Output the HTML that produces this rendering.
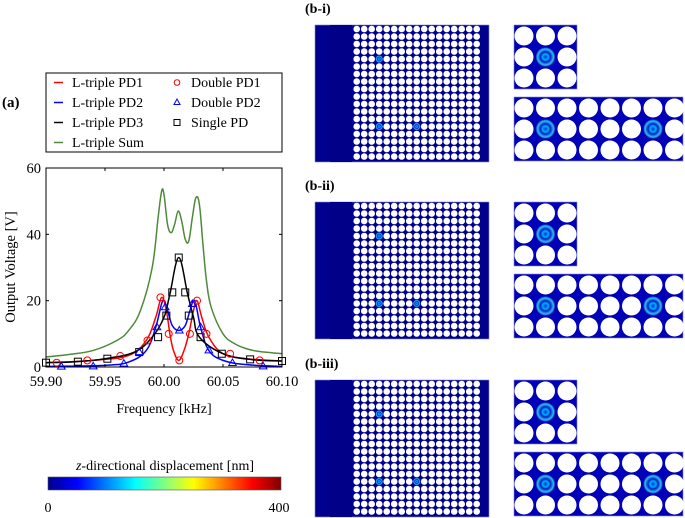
<!DOCTYPE html>
<html><head><meta charset="utf-8"><style>
body{margin:0;background:#fff;width:685px;height:518px;overflow:hidden;font-family:"Liberation Serif",serif}
svg{position:absolute;left:0;top:0}
</style></head><body>
<svg id="s" width="685" height="518" viewBox="0 0 685 518">
<defs>
<linearGradient id="jet" x1="0" x2="1" y1="0" y2="0">
<stop offset="0" stop-color="#00008f"/><stop offset="0.125" stop-color="#0000ff"/><stop offset="0.375" stop-color="#00ffff"/><stop offset="0.5" stop-color="#80ff80"/><stop offset="0.625" stop-color="#ffff00"/><stop offset="0.875" stop-color="#ff0000"/><stop offset="1" stop-color="#800000"/>
</linearGradient>
<radialGradient id="spot"><stop offset="0" stop-color="#0030d0"/><stop offset="0.3" stop-color="#00b0ff"/><stop offset="0.5" stop-color="#0020c0"/><stop offset="0.8" stop-color="#30c0ff"/><stop offset="1" stop-color="#00008f"/></radialGradient>
</defs>
<text x="2" y="107" font-size="15" font-weight="bold">(a)</text>
<g>
<rect x="46" y="73" width="236" height="79" fill="#fff" stroke="#000" stroke-width="1"/>
</g>
<g id="plot"></g>
<text x="164" y="413" font-size="14" text-anchor="middle">Frequency [kHz]</text>
<text transform="translate(15,267) rotate(-90)" font-size="14.5" text-anchor="middle">Output Voltage [V]</text>
<g>
<text x="165" y="470" font-size="14" text-anchor="middle"><tspan font-style="italic">z</tspan>-directional displacement [nm]</text>
<rect x="48" y="477" width="233" height="13" fill="url(#jet)" stroke="#555" stroke-width="0.6"/>
<text x="48" y="512" font-size="14" text-anchor="middle">0</text>
<text x="279" y="512" font-size="14" text-anchor="middle">400</text>
</g>
<g id="panels"></g>
</svg>
<script>
const NS="http://www.w3.org/2000/svg";
const svg=document.getElementById('s');
function mk(t,a,p){const e=document.createElementNS(NS,t);for(const k in a)e.setAttribute(k,a[k]);(p||svg).appendChild(e);return e;}
// ---- chart data ----
const xTicks=[59.90,59.95,60.00,60.05,60.10];
const yTicks=[0,20,40,60];
const sumF=[59.90,59.92,59.94,59.96,59.97,59.98,59.99,59.995,59.998,60.000,60.003,60.006,60.009,60.012,60.015,60.018,60.021,60.024,60.027,60.030,60.033,60.036,60.040,60.050,60.060,60.070,60.080,60.100];
const sumV=[3,3.8,5,8,11,17,30,45,53,52,43,40.5,43,47,44,38.5,38,45,51,49,37,26,18,10,7,5.5,4.7,4];
const pd3F=[59.90,59.925,59.95,59.975,59.99,60.000,60.005,60.0125,60.020,60.025,60.030,60.050,60.075,60.100];
const pd3V=[1.3,1.6,2.5,4.5,9,15,22,33,22,15,9,4,2.2,1.8];
const pd1F=[59.90,59.94,59.97,59.985,59.993,59.998,60.002,60.005,60.008,60.0125,60.017,60.021,60.025,60.028,60.032,60.038,60.050,60.070,60.100];
const pd1V=[1.3,2,3.5,8,15,21,17,10,5,2,5,10,17,20,15,9,4,2.5,1.8];
const pd2F=[59.90,59.95,59.97,59.985,59.993,59.999,60.003,60.007,60.0125,60.018,60.022,60.026,60.031,60.038,60.050,60.070,60.100];
const pd2V=[0.2,0.5,1.5,5,12,20,17,12.5,11,12.5,17,20,12,5,2,0.7,0.2];
const sqF=[59.900,59.927,59.952,59.979,59.995,60.002,60.007,60.0125,60.018,60.021,60.031,60.049,60.073,60.100];
const sqV=[1.3,1.6,2.5,4.5,9,15.5,22.5,33,22.5,15.5,9,4,2.3,1.8];
const ciF=[59.909,59.935,59.963,59.986,59.997,60.004,60.013,60.022,60.028,60.036,60.056,60.081];
const ciV=[1.3,2,3.3,8,21,10,2,10,20,10,4,2];
const trF=[59.913,59.940,59.966,59.979,59.994,60.001,60.013,60.024,60.031,60.038,60.058,60.084];
const trV=[0.1,0.2,1,4.5,12,18,11,19,12,5,1.2,0.2];
const X0=46,X1=282,Y0=367,Y1=168;
const xs=f=>X0+(f-59.90)/0.2*(X1-X0);
const ys=v=>Y0-v/60*(Y0-Y1);
const plot=document.getElementById('plot');
mk('rect',{x:X0,y:Y1,width:X1-X0,height:Y0-Y1,fill:'#fff',stroke:'none'},plot);
function smooth(pts){let d='M'+pts[0][0]+','+pts[0][1];
for(let i=0;i<pts.length-1;i++){const p0=pts[Math.max(0,i-1)],p1=pts[i],p2=pts[i+1],p3=pts[Math.min(pts.length-1,i+2)];
const t=0.18;const c1=[p1[0]+(p2[0]-p0[0])*t,p1[1]+(p2[1]-p0[1])*t],c2=[p2[0]-(p3[0]-p1[0])*t,p2[1]-(p3[1]-p1[1])*t];
d+=` C${c1[0]},${c1[1]} ${c2[0]},${c2[1]} ${p2[0]},${p2[1]}`;}return d;}
function line(F,V,c,name){const p=mk('path',{d:smooth(F.map((f,i)=>[xs(f),ys(V[i])])),fill:'none',stroke:c,'stroke-width':1.5,'stroke-linejoin':'round'},plot);

}
line(sumF,sumV,'#4e8a3a','series-sum');
line(pd2F,pd2V,'#0000ff','series-pd2');
line(pd1F,pd1V,'#ff0000','series-pd1');
line(pd3F,pd3V,'#000','series-pd3');
sqF.forEach((f,i)=>{const e=mk('rect',{x:xs(f)-3.5,y:ys(sqV[i])-3.5,width:7,height:7,fill:'none',stroke:'#000','stroke-width':1},plot);

});
ciF.forEach((f,i)=>{const e=mk('circle',{cx:xs(f),cy:ys(ciV[i]),r:3.5,fill:'none',stroke:'#ff0000','stroke-width':1},plot);

});
trF.forEach((f,i)=>{const x=xs(f),y=ys(trV[i]);const e=mk('polygon',{points:`${x},${y-4} ${x-3.8},${y+2.5} ${x+3.8},${y+2.5}`,fill:'none',stroke:'#0000ff','stroke-width':1},plot);

});
mk('rect',{x:X0,y:Y1,width:X1-X0,height:Y0-Y1,fill:'none',stroke:'#000','stroke-width':1},plot);
xTicks.forEach(t=>{const x=xs(t);mk('line',{x1:x,x2:x,y1:Y0,y2:Y0-3,stroke:'#000'},plot);mk('line',{x1:x,x2:x,y1:Y1,y2:Y1+3,stroke:'#000'},plot);
const e=mk('text',{x:x,y:Y0+19,'font-size':14.5,'text-anchor':'middle'},plot);e.textContent=t.toFixed(2);

});
yTicks.forEach(t=>{const y=ys(t);mk('line',{x1:X0,x2:X0+3,y1:y,y2:y,stroke:'#000'},plot);mk('line',{x1:X1,x2:X1-3,y1:y,y2:y,stroke:'#000'},plot);
const e=mk('text',{x:X0-5,y:y+5,'font-size':14.5,'text-anchor':'end'},plot);e.textContent=t;

});
// legend entries
const legItems=[['L-triple PD1','#ff0000','line',57,87],['L-triple PD2','#0000ff','line',57,107],['L-triple PD3','#000','line',57,127],['L-triple Sum','#4e8a3a','line',57,147],['Double PD1','#ff0000','circle',176,87],['Double PD2','#0000ff','tri',176,107],['Single PD','#000','sq',176,127]];
legItems.forEach(([lab,c,t,x,y])=>{
if(t==='line')mk('line',{x1:x-3,x2:x+6,y1:y-4.5,y2:y-4.5,stroke:c,'stroke-width':1.5});
if(t==='circle')mk('circle',{cx:x+1,cy:y-4.5,r:2.8,fill:'none',stroke:c});
if(t==='tri')mk('polygon',{points:`${x+1},${y-8} ${x-2},${y-2.5} ${x+4},${y-2.5}`,fill:'none',stroke:c});
if(t==='sq')mk('rect',{x:x-2,y:y-7.5,width:6,height:6,fill:'none',stroke:c});
const e=mk('text',{x:x+15,y:y,'font-size':14});e.textContent=lab;

});
// ---- panels ----
const P=document.getElementById('panels');
const offs=[0,177,355];
const labels=['(b-i)','(b-ii)','(b-iii)'];
const defects=[[[3,4],[3,13],[8,13]],[[3,4],[3,13],[8,13]],[[3,4],[3,13],[8,13]]];
offs.forEach((o,k)=>{
const t=mk('text',{x:305,y:13+o,'font-size':14,'font-weight':'bold'},P);t.textContent=labels[k];


const g=mk('g',{},P);


mk('rect',{x:315,y:25+o,width:174,height:137,fill:'#00008f',stroke:'#8888cc','stroke-width':0.6},g);
mk('rect',{x:330,y:25+o,width:22,height:137,fill:'#000088'},g);
for(let c=0;c<17;c++)for(let r=0;r<18;r++){
const cx=356.7+c*7.5,cy=29+o+r*7.5;
const d=defects[k].find(p=>p[0]===c&&p[1]===r);
if(d){mk('circle',{cx:cx,cy:cy,r:3.8,fill:'url(#spot)'},g);}
else mk('circle',{cx:cx,cy:cy,r:3.3,fill:'#fff'},g);}
const g2=mk('g',{},P);


mk('rect',{x:514,y:25+o,width:63,height:64,fill:'#0000b8',stroke:'#8888cc','stroke-width':0.6},g2);
for(let c=0;c<3;c++)for(let r=0;r<3;r++){const cx=524+c*21.5,cy=36+o+r*21;
if(c===1&&r===1){mk('circle',{cx:cx,cy:cy,r:10,fill:'url(#spot)'},g2);}else mk('circle',{cx:cx,cy:cy,r:9.5,fill:'#fff'},g2);}
const g3=mk('g',{},P);


mk('rect',{x:514,y:97+o,width:169,height:64,fill:'#0000b8',stroke:'#8888cc','stroke-width':0.6},g3);
for(let c=0;c<8;c++)for(let r=0;r<3;r++){const cx=524+c*21.5,cy=108+o+r*21;
if(r===1&&(c===1||c===6)){mk('circle',{cx:cx,cy:cy,r:10,fill:'url(#spot)'},g3);}else mk('circle',{cx:cx,cy:cy,r:9.5,fill:'#fff'},g3);}
});
</script>
</body></html>
